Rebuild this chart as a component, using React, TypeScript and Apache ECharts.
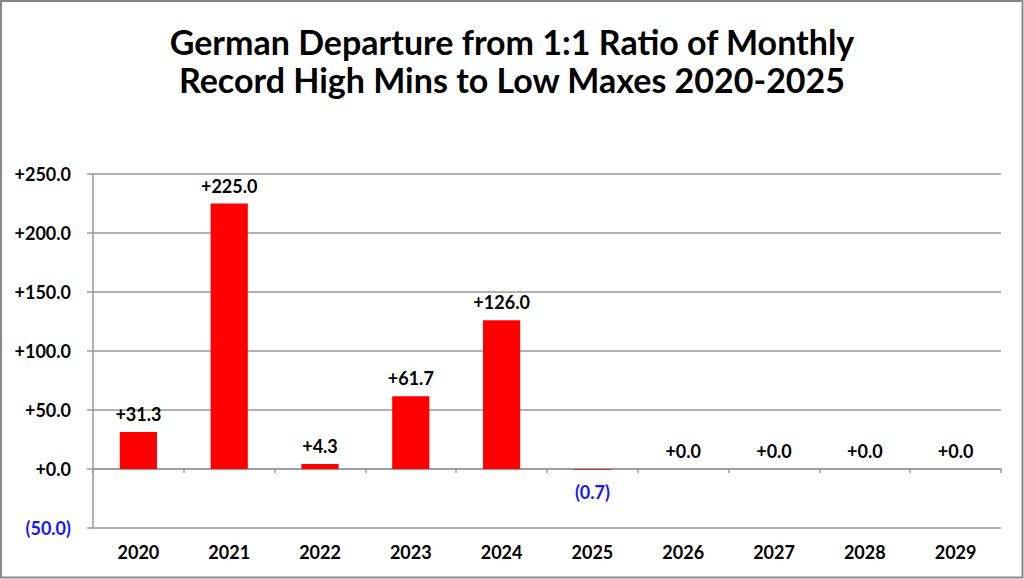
import React, { useEffect, useRef } from "react";
import * as echarts from "echarts";

const categories = ["2020", "2021", "2022", "2023", "2024", "2025", "2026", "2027", "2028", "2029"];
const values = [31.3, 225.0, 4.3, 61.7, 126.0, -0.7, 0.0, 0.0, 0.0, 0.0];
const titleText = "German Departure from 1:1 Ratio of Monthly\nRecord High Mins to Low Maxes 2020-2025";

const FONT = "Lato, 'Open Sans', sans-serif";
const BLUE = "#1515ff";

function fmt(v: number): string {
  if (v < 0) return "(" + Math.abs(v).toFixed(1) + ")";
  return "+" + v.toFixed(1);
}

export default function App() {
  const ref = useRef<HTMLDivElement>(null);
  useEffect(() => {
    document.body.style.margin = "0";
    const chart = echarts.init(ref.current!, null, { renderer: "svg" });
    chart.setOption({
      animation: false,
      backgroundColor: "#ffffff",
      title: {
        text: titleText,
        left: "center",
        top: 17,
        textStyle: {
          fontFamily: FONT,
          fontWeight: "bold",
          fontSize: 34,
          lineHeight: 38,
          color: "#000",
        },
      },
      graphic: [
        {
          type: "rect",
          shape: { x: 1, y: 1, width: 1021.5, height: 576.5 },
          style: { fill: "none", stroke: "#888888", lineWidth: 2 },
          silent: true,
        },
      ],
      grid: { left: 93, right: 23, top: 174, bottom: 51, containLabel: false },
      xAxis: [
        {
          type: "category",
          data: categories,
          axisLine: { onZero: true, lineStyle: { color: "#999999", width: 1.5 } },
          axisTick: { show: true, length: 4, inside: false, lineStyle: { color: "#999999", width: 1.5 } },
          axisLabel: { show: false },
        },
        {
          type: "category",
          data: categories,
          position: "bottom",
          axisLine: { show: false, onZero: false },
          axisTick: { show: false },
          axisLabel: {
            show: true,
            margin: 15,
            fontFamily: FONT,
            fontWeight: "bold",
            fontSize: 18,
            color: "#000",
          },
        },
      ],
      yAxis: {
        type: "value",
        min: -50,
        max: 250,
        interval: 50,
        axisLine: { show: true, lineStyle: { color: "#999999", width: 1.5 } },
        axisTick: { show: true, length: 6, lineStyle: { color: "#999999", width: 1.5 } },
        splitLine: { show: true, lineStyle: { color: "#999999", width: 1.5 } },
        axisLabel: {
          margin: 22,
          fontFamily: FONT,
          fontWeight: "bold",
          fontSize: 18,
          formatter: (v: number) => fmt(v),
          color: (v: any) => (Number(v) < 0 ? BLUE : "#000"),
        },
      },
      series: [
        {
          type: "bar",
          xAxisIndex: 0,
          data: values.map((v) => ({
            value: v,
            label: {
              show: true,
              position: v < 0 ? "bottom" : "top",
              distance: v < 0 ? 13 : 9,
              color: v < 0 ? BLUE : "#000",
            },
          })),
          barWidth: "41%",
          itemStyle: { color: "#ff0000" },
          label: {
            show: true,
            fontFamily: FONT,
            fontWeight: "bold",
            fontSize: 18,
            formatter: (p: any) => fmt(p.value),
          },
        },
      ],
    });
    return () => chart.dispose();
  }, []);
  return <div ref={ref} style={{ position: "fixed", left: 0, top: 0, width: 1024, height: 579 }} />;
}
